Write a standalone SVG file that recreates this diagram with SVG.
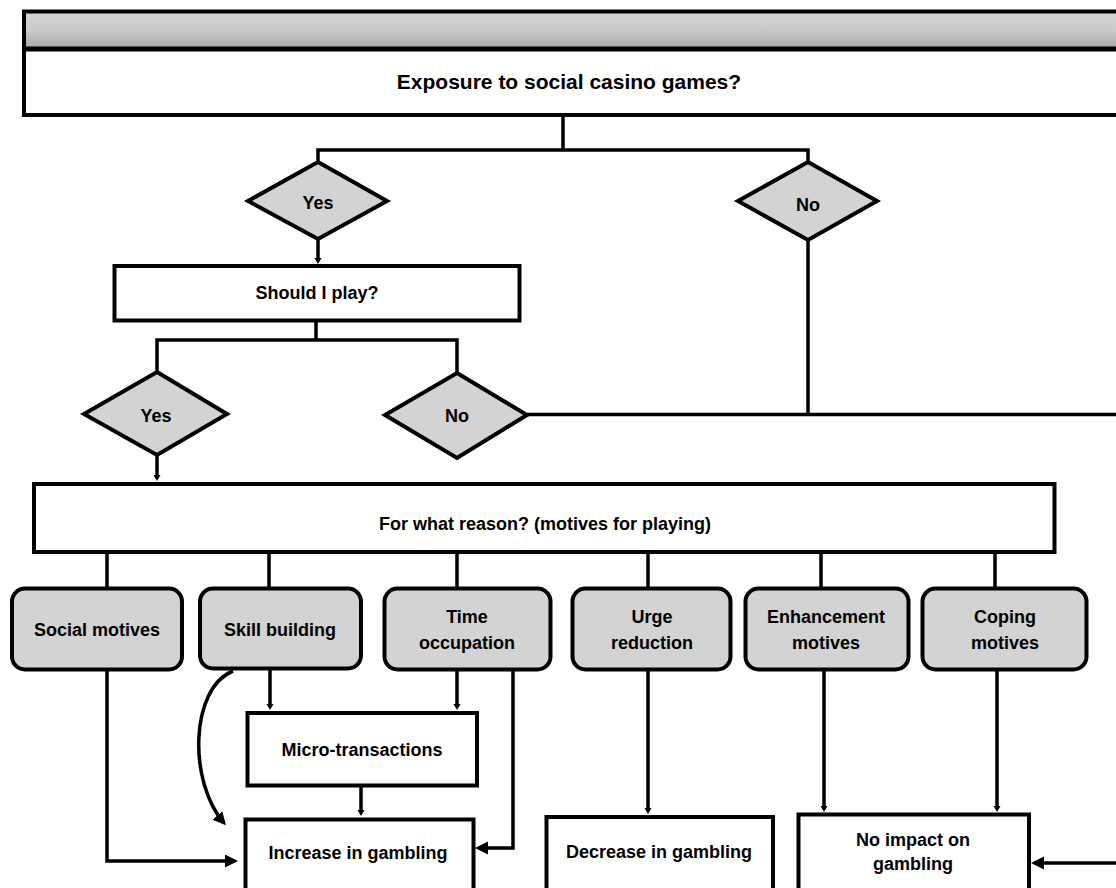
<svg xmlns="http://www.w3.org/2000/svg" width="1116" height="888" viewBox="0 0 1116 888">
<style>
  .box { fill: #ffffff; stroke: #000; stroke-width: 4; }
  .gbox { fill: #d3d3d3; stroke: #000; stroke-width: 4; }
  .dia { fill: #d3d3d3; stroke: #000; stroke-width: 4; stroke-linejoin: miter; }
  .con { fill: none; stroke: #000; stroke-width: 3.5; }
  .lbl { font-family: "Liberation Sans", Arial, sans-serif; font-weight: bold; font-size: 18px; fill: #000; text-anchor: middle; }
</style>
<defs>
  <linearGradient id="hdr" x1="0" y1="0" x2="0" y2="1">
    <stop offset="0" stop-color="#d6d6d6"/>
    <stop offset="0.45" stop-color="#cccccc"/>
    <stop offset="1" stop-color="#a9a9a9"/>
  </linearGradient>
  <marker id="sm" markerUnits="userSpaceOnUse" markerWidth="8" markerHeight="8" refX="3" refY="3.5" orient="auto">
    <path d="M0,0 L6,3.5 L0,7 z" fill="#000"/>
  </marker>
  <marker id="lg" markerUnits="userSpaceOnUse" markerWidth="14" markerHeight="14" refX="10" refY="6.5" orient="auto">
    <path d="M0,0 L13,6.5 L0,13 z" fill="#000"/>
  </marker>
</defs>
<rect width="1116" height="888" fill="#ffffff"/>

<g id="header">
  <rect x="24" y="11.5" width="1100" height="37.5" fill="url(#hdr)"/>
  <rect x="24" y="11.5" width="1100" height="103.5" fill="none" stroke="#000" stroke-width="4"/>
  <line x1="24" y1="49" x2="1124" y2="49" stroke="#000" stroke-width="5"/>
  <text class="lbl" x="569" y="89" style="font-size:21px">Exposure to social casino games?</text>
</g>

<g id="connectors">
  <path class="con" d="M563 117 V150 M318 162 V150 H808 V162"/>
  <path class="con" d="M318 239 V261" marker-end="url(#sm)"/>
  <path class="con" d="M808 240 V414.5"/>
  <path class="con" d="M316 322 V340 M157 372 V340 H457 V372"/>
  <path class="con" d="M527 414.5 H1120"/>
  <path class="con" d="M157 455 V478" marker-end="url(#sm)"/>
  <path class="con" d="M107 553 V588 M269 553 V588 M457 553 V588 M648 553 V588 M821 553 V588 M995 553 V588"/>
  <path class="con" d="M107 670 V861 H235" marker-end="url(#lg)"/>
  <path class="con" d="M233 671 C190 688 188 782 224 823" marker-end="url(#lg)"/>
  <path class="con" d="M270 670 V707" marker-end="url(#sm)"/>
  <path class="con" d="M457 670 V707" marker-end="url(#sm)"/>
  <path class="con" d="M513 670 V848 H478" marker-end="url(#lg)"/>
  <path class="con" d="M361 787 V813" marker-end="url(#sm)"/>
  <path class="con" d="M648 670 V811" marker-end="url(#sm)"/>
  <path class="con" d="M824 670 V809" marker-end="url(#sm)"/>
  <path class="con" d="M997 670 V809" marker-end="url(#sm)"/>
  <path class="con" d="M1120 863 H1034" marker-end="url(#lg)"/>
</g>

<g id="yes1">
  <polygon class="dia" points="318,162 387,201 318,239 248,201"/>
  <text class="lbl" x="318" y="209">Yes</text>
</g>
<g id="no1">
  <polygon class="dia" points="808,162 877,201 808,240 738,201"/>
  <text class="lbl" x="808" y="211">No</text>
</g>
<g id="should">
  <rect class="box" x="114.5" y="266" width="405" height="54.5"/>
  <text class="lbl" x="317" y="299">Should I play?</text>
</g>
<g id="yes2">
  <polygon class="dia" points="157,372 227,414 157,455 84,414"/>
  <text class="lbl" x="156" y="422">Yes</text>
</g>
<g id="no2">
  <polygon class="dia" points="457,373 527,415 457,458 385,415"/>
  <text class="lbl" x="457" y="422">No</text>
</g>
<g id="reason">
  <rect class="box" x="34" y="484" width="1020.5" height="68"/>
  <text class="lbl" x="545" y="530">For what reason? (motives for playing)</text>
</g>
<g id="social">
  <rect class="gbox" x="12" y="588.5" width="170" height="81" rx="13"/>
  <text class="lbl" x="97" y="636">Social motives</text>
</g>
<g id="skill">
  <rect class="gbox" x="200" y="588.5" width="161" height="80" rx="13"/>
  <text class="lbl" x="280" y="636">Skill building</text>
</g>
<g id="time">
  <rect class="gbox" x="384.5" y="588.5" width="166" height="81" rx="13"/>
  <text class="lbl" x="467" y="623">Time</text>
  <text class="lbl" x="467" y="649">occupation</text>
</g>
<g id="urge">
  <rect class="gbox" x="572.5" y="588.5" width="158" height="81" rx="13"/>
  <text class="lbl" x="652" y="623">Urge</text>
  <text class="lbl" x="652" y="649">reduction</text>
</g>
<g id="enhancement">
  <rect class="gbox" x="745.5" y="588.5" width="163" height="81" rx="13"/>
  <text class="lbl" x="826" y="623">Enhancement</text>
  <text class="lbl" x="826" y="649">motives</text>
</g>
<g id="coping">
  <rect class="gbox" x="922.5" y="588.5" width="164" height="81" rx="13"/>
  <text class="lbl" x="1005" y="623">Coping</text>
  <text class="lbl" x="1005" y="649">motives</text>
</g>
<g id="micro">
  <rect class="box" x="247.5" y="713" width="229.5" height="72.5"/>
  <text class="lbl" x="362" y="756">Micro-transactions</text>
</g>
<g id="increase">
  <rect class="box" x="245.5" y="819.5" width="228" height="90"/>
  <text class="lbl" x="358" y="859">Increase in gambling</text>
</g>
<g id="decrease">
  <rect class="box" x="546.5" y="817" width="226.5" height="90"/>
  <text class="lbl" x="659" y="858">Decrease in gambling</text>
</g>
<g id="noimpact">
  <rect class="box" x="798.5" y="814.5" width="230.5" height="90"/>
  <text class="lbl" x="913" y="846">No impact on</text>
  <text class="lbl" x="913" y="870">gambling</text>
</g>
</svg>
